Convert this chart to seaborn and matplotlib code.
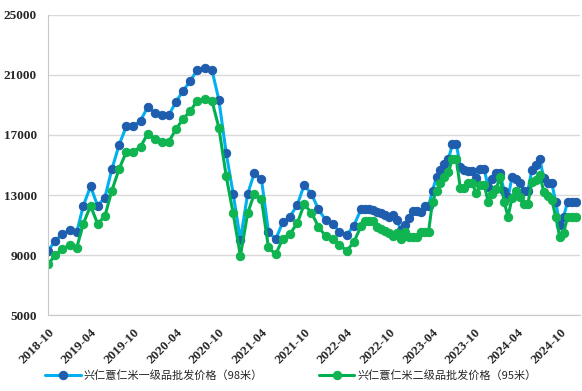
import pandas as pd
import matplotlib
matplotlib.use("Agg")
import matplotlib.pyplot as plt
import seaborn as sns

sns.set_style("white")
plt.rcParams["font.family"] = ["Liberation Serif", "Noto Sans CJK SC"]

# 月度数据 2018-10 ~ 2022-05
monthly_dates = pd.date_range("2018-10-01", periods=44, freq="MS")
monthly_g1 = [9300, 9930, 10420, 10640, 10530, 12290, 13580, 12290, 12820, 14710,
              16330, 17580, 17580, 17960, 18850, 18490, 18330, 18330, 19220, 19950,
              20600, 21350, 21490, 21350, 19330, 15820, 13100, 10000, 13070, 14440,
              14070, 10560, 10040, 11180, 11560, 12330, 13670, 13070, 12050, 11330,
              11050, 10560, 10350, 10950]
monthly_g2 = [8400, 8980, 9400, 9640, 9490, 11090, 12290, 11090, 11580, 13290,
              14730, 15870, 15870, 16220, 17070, 16710, 16560, 16560, 17400, 18070,
              18600, 19290, 19400, 19290, 17490, 14290, 11780, 8950, 11780, 13070,
              12730, 9510, 9040, 10090, 10420, 11110, 12380, 11820, 10890, 10250,
              10040, 9670, 9300, 9850]

# 2022-06 之后的加密数据
dense_dates = ["2022-06-01", "2022-06-18", "2022-07-05", "2022-07-22", "2022-08-08",
               "2022-08-25", "2022-09-11", "2022-09-28", "2022-10-15", "2022-11-01",
               "2022-11-18", "2022-12-05", "2022-12-22", "2023-01-08", "2023-01-25",
               "2023-02-11", "2023-02-28", "2023-03-17", "2023-04-03", "2023-04-20",
               "2023-05-07", "2023-05-24", "2023-06-10", "2023-06-27", "2023-07-14",
               "2023-07-31", "2023-08-17", "2023-09-03", "2023-09-20", "2023-10-07",
               "2023-10-24", "2023-11-10", "2023-11-27", "2023-12-14", "2023-12-31",
               "2024-01-17", "2024-02-03", "2024-02-20", "2024-03-08", "2024-03-25",
               "2024-04-11", "2024-04-28", "2024-05-15", "2024-06-01", "2024-06-18",
               "2024-07-05", "2024-07-22", "2024-08-08", "2024-08-25", "2024-09-11",
               "2024-09-28", "2024-10-15", "2024-11-01", "2024-11-18", "2024-12-05"]
dense_g1 = [12050, 12050, 12050, 12000, 11900, 11780, 11700, 11550, 11700, 11330,
            10700, 11000, 11500, 11950, 11950, 11850, 12270, 12270, 13300, 14200,
            14700, 15050, 15380, 16380, 16380, 14890, 14700, 14620, 14620, 14110,
            14710, 14710, 13560, 14100, 14440, 14440, 13300, 12840, 14180, 14040,
            13780, 13290, 13290, 14670, 15000, 15380, 14110, 13820, 13780, 12560,
            11000, 11560, 12560, 12560, 12560]
dense_g2 = [10930, 11290, 11290, 11250, 10900, 10750, 10600, 10450, 10270, 10450,
            10070, 10560, 10220, 10220, 10220, 10560, 10560, 10560, 12560, 13300,
            13800, 14200, 14550, 15380, 15380, 13440, 13440, 13780, 13780, 13110,
            13670, 13670, 12560, 13070, 13380, 14220, 12560, 11560, 12800, 13250,
            12900, 12400, 12400, 13890, 14000, 14330, 13220, 12930, 12700, 11560,
            10220, 10490, 11560, 11560, 11560]

label1 = "兴仁薏仁米一级品批发价格（98米）"
label2 = "兴仁薏仁米二级品批发价格（95米）"

df = pd.DataFrame({
    "date": list(monthly_dates) + list(pd.to_datetime(dense_dates)),
    "g1": monthly_g1 + dense_g1,
    "g2": monthly_g2 + dense_g2,
})

fig, ax = plt.subplots(figsize=(5.82, 3.91), dpi=100)
fig.subplots_adjust(left=0.0825, right=0.997, bottom=0.194, top=0.962)

sns.lineplot(data=df, x="date", y="g1", ax=ax, color="#00B0F0", lw=2.2,
             marker="o", ms=6, mfc="#1F5DAE", mec="#1F5DAE", label=label1)
sns.lineplot(data=df, x="date", y="g2", ax=ax, color="#00B050", lw=2.2,
             marker="o", ms=6, mfc="#10B450", mec="#10B450", label=label2)

ax.set_ylim(5000, 25000)
ax.set_yticks(range(5000, 25001, 4000))
ax.set_xlim(pd.Timestamp("2018-10-01"), pd.Timestamp("2024-12-25"))
ticks = pd.date_range("2018-10-01", "2024-10-01", freq="6MS")
ax.set_xticks(ticks)
ax.set_xticklabels([t.strftime("%Y-%m") for t in ticks], rotation=45,
                   ha="right", rotation_mode="anchor", fontweight="bold", fontsize=9.5)
for lab in ax.get_yticklabels():
    lab.set_fontweight("bold")
    lab.set_fontsize(9.5)
ax.grid(axis="y", color="#d9d9d9", lw=1)
ax.set_axisbelow(True)
for s in ["top", "right"]:
    ax.spines[s].set_visible(False)
for s in ["left", "bottom"]:
    ax.spines[s].set_color("#c8c8c8")
ax.tick_params(axis="both", direction="out", length=5, color="#c8c8c8", width=1, pad=3)
ax.set_xlabel("")
ax.set_ylabel("")

handles, labels = ax.get_legend_handles_labels()
ax.get_legend().remove()
fig.legend(handles, labels, loc="lower center", ncol=2, frameon=False,
           bbox_to_anchor=(0.5, 0.0), prop={"family": "Noto Sans CJK SC", "size": 8},
           handlelength=3.2, columnspacing=5, handletextpad=0.3)

plt.savefig("out.png", dpi=100)
plt.close()
